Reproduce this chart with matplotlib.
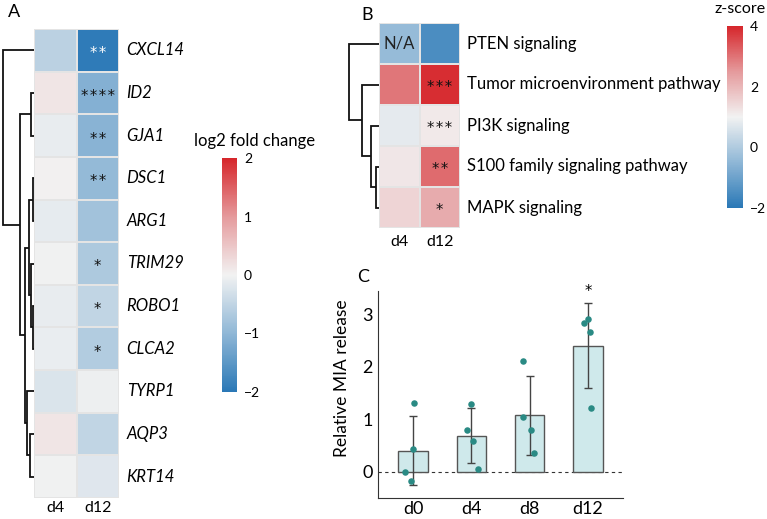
import numpy as np
import matplotlib
matplotlib.use("Agg")
import matplotlib.pyplot as plt
from matplotlib.colors import LinearSegmentedColormap, Normalize
import matplotlib.cm as cm

plt.rcParams['font.family'] = ['Lato', 'DejaVu Sans']

# ---------------- data ----------------
genes = ["CXCL14", "ID2", "GJA1", "DSC1", "ARG1", "TRIM29", "ROBO1", "CLCA2", "TYRP1", "AQP3", "KRT14"]
cols_A = ["d4", "d12"]
lfc_d4 = [-0.55, 0.15, -0.10, 0.03, -0.12, -0.03, -0.10, -0.08, -0.25, 0.15, -0.02]
lfc_d12 = [-1.95, -1.10, -1.05, -0.95, -0.80, -0.70, -0.50, -0.65, -0.05, -0.50, -0.20]
sig_A_d12 = ["**", "****", "**", "**", "", "*", "*", "*", "", "", ""]
# linkage: (left, right, height)
link_A = [(1, 2, 3), (3, 4, 1.5), (6, 7, 1.5), (5, 13, 3), (12, 14, 5),
          (9, 10, 4), (8, 16, 7), (15, 17, 9), (11, 18, 14), (0, 19, 31)]

pathways = ["PTEN signaling", "Tumor microenvironment pathway", "PI3K signaling",
            "S100 family signaling pathway", "MAPK signaling"]
z_d4 = [-0.4, 2.95, 0.8, 1.2, 1.5]
z_d12 = [-1.5, 3.9, 1.15, 3.1, 2.2]
sig_B_d12 = ["", "***", "***", "**", "*"]
na_B_d4 = [True, False, False, False, False]
link_B = [(3, 4, 3), (2, 5, 8), (1, 6, 17), (0, 7, 30)]

days = ["d0", "d4", "d8", "d12"]
mia_mean = [0.40, 0.69, 1.08, 2.41]
mia_sd = [0.66, 0.52, 0.75, 0.81]
mia_points = [[1.31, 0.44, -0.01, -0.17],
              [1.29, 0.79, 0.59, 0.05],
              [2.12, 1.04, 0.79, 0.36],
              [2.91, 2.84, 2.67, 1.21]]
point_jitter = [[0.02, 0.0, -0.14, -0.04],
                [-0.01, -0.08, 0.03, 0.11],
                [-0.11, -0.12, 0.02, 0.07],
                [0.0, -0.07, 0.03, 0.05]]
mia_sig = ["", "", "", "*"]

# ---------------- figure ----------------
W, H = 767, 519
fig = plt.figure(figsize=(W / 100, H / 100), dpi=100)


def ax_px(x0, y0, x1, y1):
    return fig.add_axes([x0 / W, 1 - y1 / H, (x1 - x0) / W, (y1 - y0) / H])


cmap = LinearSegmentedColormap.from_list(
    "rb", ["#2a78b6", "#8fb7d6", "#f2f2f2", "#e59a9c", "#d6262b"])


def stars(s):
    return "\u200a".join(s)


def draw_heat(ax, data, norm, col_labels, pad):
    nrow, ncol = data.shape
    ax.pcolormesh(np.arange(ncol + 1) - 0.5, np.arange(nrow + 1) - 0.5, data,
                  cmap=cmap, norm=norm, edgecolor="#e4e4e4", linewidth=1.2)
    ax.set_xlim(-0.5, ncol - 0.5)
    ax.set_ylim(nrow - 0.5, -0.5)
    ax.set_xticks(range(ncol))
    ax.set_xticklabels(col_labels, fontsize=11.5)
    ax.set_yticks([])
    ax.tick_params(axis="x", length=0, pad=pad)
    for s in ax.spines.values():
        s.set_visible(False)


def draw_dendro(ax, links, n, xmax):
    pos = {i: (float(i), 0.0) for i in range(n)}
    for k, (a, b, h) in enumerate(links):
        ya, ha = pos[a]
        yb, hb = pos[b]
        ax.plot([ha, h, h, hb], [ya, ya, yb, yb], color="#111111", lw=1.3,
                solid_capstyle="butt", solid_joinstyle="miter")
        pos[n + k] = ((ya + yb) / 2, h)
    ax.set_xlim(xmax, 0)
    ax.set_ylim(n - 0.5, -0.5)
    ax.axis("off")


# ----- Panel A -----
axA = ax_px(34, 29, 119, 498)
dataA = np.array([lfc_d4, lfc_d12]).T
normA = Normalize(-2, 2)
draw_heat(axA, dataA, normA, cols_A, 2.5)
for i, g in enumerate(genes):
    axA.text(1.68, i, g, style="italic", fontsize=12, va="center", ha="left")
    s = sig_A_d12[i]
    if s:
        c = "white" if lfc_d12[i] < -1.5 else "#111111"
        axA.text(1, i + 0.08, stars(s), ha="center", va="center", fontsize=10.5, color=c,
                 family="DejaVu Sans")
dA = ax_px(2, 29, 34, 498)
draw_dendro(dA, link_A, len(genes), 32)

cbA = ax_px(222, 158, 237, 392)
cb = fig.colorbar(cm.ScalarMappable(norm=normA, cmap=cmap), cax=cbA)
cb.outline.set_visible(False)
cb.set_ticks([-2, -1, 0, 1, 2])
cb.ax.tick_params(length=0, labelsize=10, pad=5)
fig.text(255 / W, 1 - 141 / H, "log2 fold change", fontsize=12, ha="center", va="center")
fig.text(14 / W, 1 - 12 / H, "A", fontsize=13, ha="center", va="center")

# ----- Panel B -----
axB = ax_px(379, 23, 460, 228)
dataB = np.array([z_d4, z_d12]).T
normB = Normalize(-2, 4)
draw_heat(axB, dataB, normB, cols_A, 5)
for i, p in enumerate(pathways):
    axB.text(1.68, i, p, fontsize=12, va="center", ha="left")
    s = sig_B_d12[i]
    if s:
        axB.text(1, i + 0.08, stars(s), ha="center", va="center", fontsize=10.5, color="#111111",
                 family="DejaVu Sans")
    if na_B_d4[i]:
        axB.text(0, i, "N/A", ha="center", va="center", fontsize=12, color="#222222")
dB = ax_px(347, 23, 379, 228)
draw_dendro(dB, link_B, len(pathways), 32)

cbB = ax_px(727, 26, 743, 208)
cb2 = fig.colorbar(cm.ScalarMappable(norm=normB, cmap=cmap), cax=cbB)
cb2.outline.set_visible(False)
cb2.set_ticks([-2, 0, 2, 4])
cb2.ax.tick_params(length=0, labelsize=10, pad=5)
fig.text(740 / W, 1 - 9 / H, "z-score", fontsize=11.5, ha="center", va="center")
fig.text(367 / W, 1 - 15 / H, "B", fontsize=13, ha="center", va="center")

# ----- Panel C -----
axC = ax_px(378, 291, 623, 498)
x = np.arange(len(days))
axC.bar(x, mia_mean, width=0.5, color="#cfe9eb", edgecolor="#555555", linewidth=1.0, zorder=2)
axC.errorbar(x, mia_mean, yerr=mia_sd, fmt="none", ecolor="#444444", elinewidth=1.0,
             capsize=3, capthick=1.0, zorder=3)
for i in range(len(days)):
    axC.scatter(x[i] + np.array(point_jitter[i]), mia_points[i], s=22, color="#2a8a84",
                zorder=4, linewidths=0)
    if mia_sig[i]:
        axC.text(x[i], mia_mean[i] + mia_sd[i] + 0.22, mia_sig[i], ha="center", va="center",
                 fontsize=10.5, family="DejaVu Sans", clip_on=False)
axC.axhline(0, color="#333333", lw=0.8, ls=(0, (3, 3)), zorder=1)
axC.set_xlim(-0.6, 3.6)
axC.set_ylim(-0.5, 3.45)
axC.set_yticks([0, 1, 2, 3])
axC.set_xticks(x)
axC.set_xticklabels(days)
axC.tick_params(axis="both", labelsize=13, length=0, pad=4)
axC.tick_params(axis="x", pad=2)
axC.spines["top"].set_visible(False)
axC.spines["right"].set_visible(False)
axC.spines["left"].set_color("#333333")
axC.spines["bottom"].set_color("#333333")
axC.set_ylabel("Relative MIA release", fontsize=12.5)
axC.yaxis.set_label_coords(-0.115, 0.58)
fig.text(363 / W, 1 - 277 / H, "C", fontsize=13, ha="center", va="center")

fig.savefig("out.png", dpi=100)
